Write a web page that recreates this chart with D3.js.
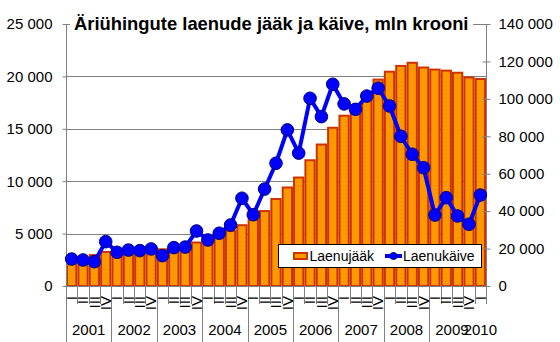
<!DOCTYPE html>
<html><head><meta charset="utf-8">
<script src="https://cdn.jsdelivr.net/npm/d3@7/dist/d3.min.js"></script>
<style>body{margin:0;background:#fff}svg{display:block;font-family:"Liberation Sans",Arial,sans-serif}</style>
</head><body><svg id="c" width="560" height="342"></svg>
<script>
const categories = ["2001 I","2001 II","2001 III","2001 IV","2002 I","2002 II","2002 III","2002 IV",
"2003 I","2003 II","2003 III","2003 IV","2004 I","2004 II","2004 III","2004 IV",
"2005 I","2005 II","2005 III","2005 IV","2006 I","2006 II","2006 III","2006 IV",
"2007 I","2007 II","2007 III","2007 IV","2008 I","2008 II","2008 III","2008 IV",
"2009 I","2009 II","2009 III","2009 IV","2010 I"];
const quarterLabels = ["I","II","III","IV","I","II","III","IV","I","II","III","IV","I","II","III","IV",
"I","II","III","IV","I","II","III","IV","I","II","III","IV","I","II","III","IV","I","II","III","IV","I"];
const years = ["2001","2002","2003","2004","2005","2006","2007","2008","2009","2010"];
const yearStart = ["2001 I","2002 I","2003 I","2004 I","2005 I","2006 I","2007 I","2008 I","2009 I","2010 I"];
const yearEnd = ["2001 IV","2002 IV","2003 IV","2004 IV","2005 IV","2006 IV","2007 IV","2008 IV","2009 IV","2010 I"];
// Laenujääk (left axis, mln krooni)
const laenujaak = [2500,2650,2950,3250,3150,3250,3300,3350,3500,3700,3650,4150,
4000,4600,5250,5800,6350,7150,8300,9400,10350,12000,13500,15100,
16250,17150,18400,19700,20450,21000,21300,20850,20650,20550,20350,19900,19750];
// Laenukäive (right axis, mln krooni)
const laenukaive = [14400,13900,13000,23700,18000,19200,18900,19800,16200,20500,20800,29400,
24600,28200,32600,46900,38100,51800,65600,83400,71000,100300,90500,107800,
97300,94400,101500,105700,96200,80000,70400,63200,37900,47200,37400,33000,48600];
const leftTicks = [0,5000,10000,15000,20000,25000];
const leftTickLabels = ["0","5 000","10 000","15 000","20 000","25 000"];
const rightTicks = [0,20000,40000,60000,80000,100000,120000,140000];
const rightTickLabels = ["0","20 000","40 000","60 000","80 000","100 000","120 000","140 000"];
const title = "Äriühingute laenude jääk ja käive, mln krooni";
const seriesNames = ["Laenujääk","Laenukäive"];

const svg = d3.select("#c");
const L = 66, R = 486, T = 24, B = 286;
const x = d3.scaleBand().domain(categories).range([L, R]).paddingInner(0.18).paddingOuter(0.09);
const yL = d3.scaleLinear().domain([0,25000]).range([B, T]);
const yR = d3.scaleLinear().domain([0,140000]).range([B, T]);
const grey = "#808080";
const edge = c => x(c) - (x.step() - x.bandwidth())/2;

const defs = svg.append("defs");
const pat = defs.append("pattern").attr("id","dots").attr("patternUnits","userSpaceOnUse").attr("width",4).attr("height",4);
pat.append("rect").attr("width",4).attr("height",4).attr("fill","#FF9900");
pat.append("rect").attr("x",1).attr("y",1).attr("width",1).attr("height",1).attr("fill","#F08A00");

// gridlines
svg.append("g").selectAll("line").data(leftTicks.filter(d=>d>0)).join("line")
  .attr("x1",L).attr("x2",R).attr("y1",d=>Math.round(yL(d))+0.5).attr("y2",d=>Math.round(yL(d))+0.5)
  .attr("stroke",grey).attr("stroke-width",1);

// bars
svg.append("g").selectAll("rect").data(laenujaak).join("rect")
  .attr("x",(d,i)=>x(categories[i])).attr("width",x.bandwidth())
  .attr("y",d=>yL(d)).attr("height",d=>B-yL(d))
  .attr("fill","url(#dots)").attr("stroke","#CC3300").attr("stroke-width",2);

// axes
const axL = svg.append("g").attr("transform",`translate(${L+0.5},0)`)
  .call(d3.axisLeft(yL).tickValues(leftTicks).tickFormat((d,i)=>leftTickLabels[i]).tickSize(4).tickPadding(10));
axL.select(".domain").remove();
axL.append("line").attr("y1",T).attr("y2",342).attr("stroke",grey);
const axR = svg.append("g").attr("transform",`translate(${R+0.5},0)`)
  .call(d3.axisRight(yR).tickValues(rightTicks).tickFormat((d,i)=>rightTickLabels[i]).tickSize(4).tickPadding(8));
axR.select(".domain").remove();
axR.append("line").attr("y1",T).attr("y2",304).attr("stroke",grey);
axR.selectAll(".tick line").attr("x1",-4);
[axL,axR].forEach(a=>{
  a.selectAll(".tick line").attr("stroke",grey);
  a.selectAll(".tick text").attr("font-size",15).attr("fill","#000").attr("font-family","Liberation Sans, Arial, sans-serif");
});
// zero line
svg.append("line").attr("x1",L).attr("x2",R).attr("y1",B+0.5).attr("y2",B+0.5).attr("stroke",grey);

// category ticks
const xa = svg.append("g");
categories.forEach((c,i)=>{
  const isYear = yearStart.includes(c) && c !== "2010 I";
  const bx = Math.round(edge(c))+0.5;
  xa.append("line").attr("x1",bx).attr("x2",bx).attr("y1",B).attr("y2",isYear?342:304).attr("stroke",grey);
});
xa.append("line").attr("x1",R+0.5).attr("x2",R+0.5).attr("y1",B).attr("y2",304).attr("stroke",grey);
// quarter labels (rotated)
xa.selectAll("text.q").data(quarterLabels).join("text").attr("class","q")
  .attr("transform",(d,i)=>`translate(${x(categories[i])+x.bandwidth()/2+5.2},296) rotate(-90)`)
  .attr("text-anchor","end").attr("font-size",15).attr("fill","#000").text(d=>d);
// year labels
xa.selectAll("text.y").data(years).join("text").attr("class","y")
  .attr("x",(d,i)=>(edge(yearStart[i]) + edge(yearEnd[i]) + x.step())/2)
  .attr("y",335).attr("text-anchor","middle").attr("font-size",15).attr("fill","#000").text(d=>d);

// line series
const line = d3.line().x((d,i)=>x(categories[i])+x.bandwidth()/2).y(d=>yR(d));
svg.append("path").datum(laenukaive).attr("d",line).attr("fill","none")
  .attr("stroke","#0000FF").attr("stroke-width",4).attr("stroke-linejoin","round");
svg.append("g").selectAll("circle").data(laenukaive).join("circle")
  .attr("cx",(d,i)=>x(categories[i])+x.bandwidth()/2).attr("cy",d=>yR(d)).attr("r",6.3)
  .attr("fill","#0000FF").attr("stroke","#000080").attr("stroke-width",1);

// title
svg.append("rect").attr("x",70).attr("y",9).attr("width",403).attr("height",25).attr("fill","#fff");
svg.append("text").attr("x",74).attr("y",29.5).attr("font-size",18.4).attr("font-weight","bold").attr("fill","#000").text(title);

// legend
const lg = svg.append("g");
lg.append("rect").attr("x",278.5).attr("y",244.5).attr("width",203).attr("height",23).attr("fill","#fff").attr("stroke","#000");
lg.append("rect").attr("x",294).attr("y",253).attr("width",13).attr("height",6).attr("fill","#FF9900").attr("stroke","#CC3300").attr("stroke-width",2);
lg.append("text").attr("x",309.5).attr("y",261).attr("font-size",14).attr("fill","#000").text(seriesNames[0]);
lg.append("line").attr("x1",385).attr("x2",402).attr("y1",256).attr("y2",256).attr("stroke","#0000FF").attr("stroke-width",4);
lg.append("circle").attr("cx",393.5).attr("cy",256).attr("r",3.5).attr("fill","#0000FF").attr("stroke","#000080");
lg.append("text").attr("x",403).attr("y",261).attr("font-size",14).attr("fill","#000").text(seriesNames[1]);
</script></body></html>
